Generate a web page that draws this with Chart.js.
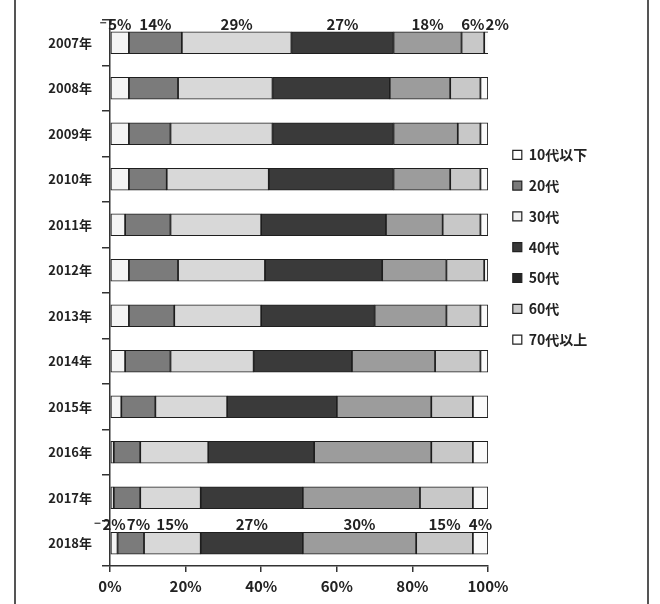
<!DOCTYPE html>
<html>
<head>
<meta charset="utf-8">
<script src="https://cdn.jsdelivr.net/npm/chart.js@4"></script>
<style>
  html, body { margin: 0; padding: 0; background: #fff; }
  #wrap { position: relative; width: 660px; height: 604px; overflow: hidden; }
  #c { position: absolute; left: 0; top: 0; }
  .frame { position: absolute; top: 0; width: 2px; height: 604px; background: #555; }
</style>
</head>
<body>
<div id="wrap">
  <canvas id="c" width="660" height="604"></canvas>
  <div class="frame" style="left:14px"></div>
  <div class="frame" style="left:647px"></div>
</div>
<script>
// ---- data ----
const years = ['2007年','2008年','2009年','2010年','2011年','2012年','2013年','2014年','2015年','2016年','2017年','2018年'];
const seriesNames = ['10代以下','20代','30代','40代','50代','60代','70代以上'];
const age10 = [5, 5, 5, 5, 4, 5, 5, 4, 3, 1, 1, 2];
const age20 = [14, 13, 11, 10, 12, 13, 12, 12, 9, 7, 7, 7];
const age30 = [29, 25, 27, 27, 24, 23, 23, 22, 19, 18, 16, 15];
const age40 = [27, 31, 32, 33, 33, 31, 30, 26, 29, 28, 27, 27];
const age50 = [18, 16, 17, 15, 15, 17, 19, 22, 25, 31, 31, 30];
const age60 = [6, 8, 6, 8, 10, 10, 9, 12, 11, 11, 14, 15];
const age70 = [2, 2, 2, 2, 2, 1, 2, 2, 4, 4, 4, 4];
const xTicks = [0, 20, 40, 60, 80, 100];
const labeledYears = ['2007年', '2018年'];

// ---- styles ----
const barColors = ['#f4f4f4', '#7b7b7b', '#d8d8d8', '#3a3a3a', '#9c9c9c', '#c8c8c8', '#fafafa'];
const legendSwatches = ['#ffffff', '#7a7a7a', '#efefef', '#3a3a3a', '#262626', '#c9c9c9', '#ffffff'];
const FONT = '"Noto Sans CJK JP", "Noto Sans", sans-serif';

const allSeries = [age10, age20, age30, age40, age50, age60, age70];
const datasets = allSeries.map((vals, i) => ({
  label: seriesNames[i],
  data: vals,
  backgroundColor: barColors[i],
  borderColor: '#1e1e1e',
  borderWidth: 1.2,
  borderSkipped: false,
  barThickness: 22,
  clip: { left: 4, top: 4, right: 0, bottom: 4 }
}));

const segmentLabels = {
  id: 'segmentLabels',
  afterDatasetsDraw(chart) {
    const ctx = chart.ctx;
    ctx.save();
    ctx.font = 'bold 15px ' + FONT;
    ctx.fillStyle = '#222';
    ctx.strokeStyle = '#333';
    ctx.lineWidth = 1.2;
    ctx.textAlign = 'center';
    ctx.textBaseline = 'bottom';
    labeledYears.forEach(yr => {
      const idx = years.indexOf(yr);
      if (idx < 0) return;
      let prevRight = -Infinity;
      chart.data.datasets.forEach((ds, di) => {
        const el = chart.getDatasetMeta(di).data[idx];
        const txt = ds.data[idx] + '%';
        const w = ctx.measureText(txt).width;
        let cx = (el.x + el.base) / 2;
        if (cx - w / 2 < prevRight + 1) cx = prevRight + 1 + w / 2;
        prevRight = cx + w / 2;
        const top = el.y - el.height / 2;
        ctx.fillText(txt, cx, top);
        if (di === 0) {
          // short leader line to the thin first segment
          const lx = cx - w / 2 - 2;
          const ly = top - 9;
          ctx.beginPath();
          ctx.moveTo(lx - 6, ly);
          ctx.lineTo(lx, ly);
          ctx.stroke();
        }
      });
    });
    ctx.restore();
  }
};

new Chart(document.getElementById('c'), {
  type: 'bar',
  data: { labels: years, datasets },
  plugins: [segmentLabels],
  options: {
    indexAxis: 'y',
    responsive: false,
    devicePixelRatio: 1,
    animation: false,
    layout: { padding: { left: 12, right: 64, top: 20, bottom: 8 } },
    scales: {
      x: {
        stacked: true,
        min: 0,
        max: 100,
        afterBuildTicks(s) { s.ticks = xTicks.map(v => ({ value: v })); },
        afterFit(s) { s.height = 30; },
        grid: { drawOnChartArea: false, drawTicks: true, tickLength: 6, color: '#333', lineWidth: 1.5 },
        border: { display: true, color: '#333', width: 1.5 },
        ticks: {
          padding: 5,
          color: '#222',
          font: { family: FONT, size: 15, weight: 'bold' },
          callback: v => v + '%'
        }
      },
      y: {
        stacked: true,
        afterFit(s) { s.width = 98; },
        grid: { drawOnChartArea: false, drawTicks: true, tickLength: 8, offset: true, color: '#333', lineWidth: 1.5 },
        border: { display: true, color: '#333', width: 1.5 },
        ticks: {
          padding: 10,
          color: '#222',
          font: { family: FONT, size: 13, weight: 'bold' }
        }
      },
      pad: {
        type: 'linear',
        position: 'right',
        display: true,
        grid: { display: false },
        border: { display: false },
        ticks: { display: false },
        afterFit(s) { s.width = 8; }
      }
    },
    plugins: {
      tooltip: { enabled: false },
      legend: {
        position: 'right',
        align: 'start',
        maxWidth: 100,
        title: { display: true, text: '', padding: { top: 0, bottom: 99 }, font: { size: 10 } },
        labels: {
          boxWidth: 9,
          boxHeight: 9,
          padding: 16.8,
          color: '#222',
          font: { family: FONT, size: 14, weight: 'bold' },
          generateLabels(chart) {
            return chart.data.datasets.map((ds, i) => ({
              text: ds.label,
              fillStyle: legendSwatches[i],
              strokeStyle: '#222',
              lineWidth: 1.2,
              fontColor: '#222',
              hidden: false,
              datasetIndex: i
            }));
          }
        }
      }
    }
  }
});
</script>
</body>
</html>
